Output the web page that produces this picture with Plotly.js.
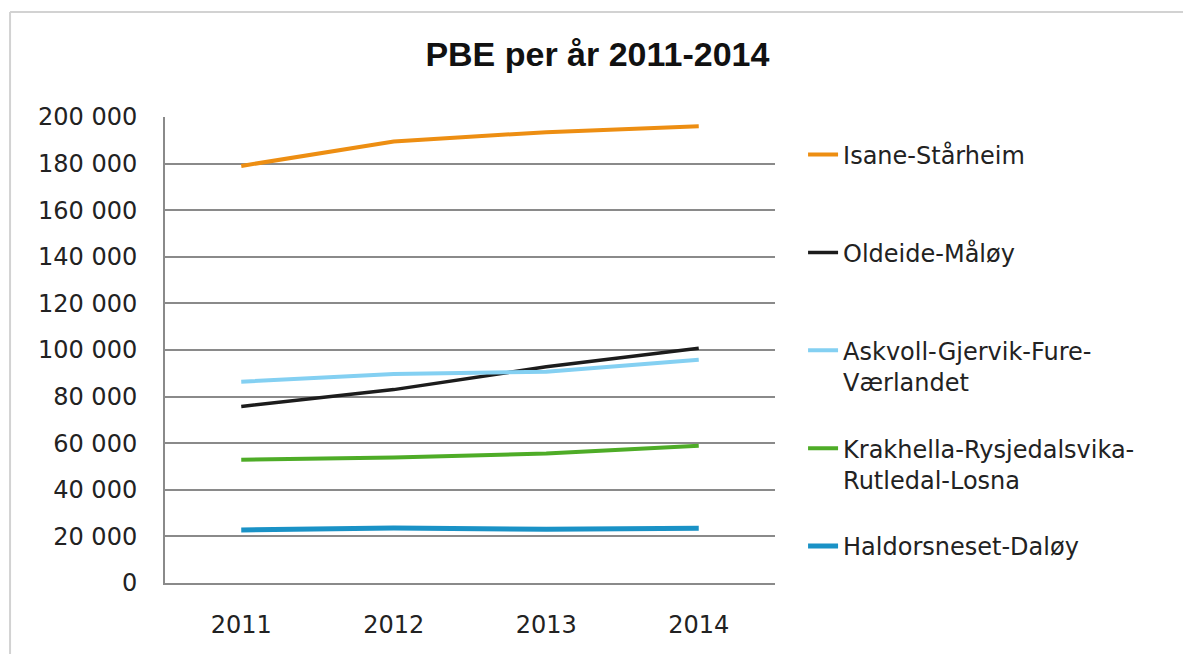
<!DOCTYPE html>
<html>
<head>
<meta charset="utf-8">
<script src="https://cdn.plot.ly/plotly-3.0.1.min.js"></script>
<style>
html,body{margin:0;padding:0;background:#fff;}
#chart{width:1183px;height:654px;}
</style>
</head>
<body>
<div id="chart"></div>
<script>
const years = ["2011", "2012", "2013", "2014"];
const seriesNames = ["Isane-Stårheim<br> ", "Oldeide-Måløy<br> ", "Askvoll-Gjervik-Fure-<br>Værlandet", "Krakhella-Rysjedalsvika-<br>Rutledal-Losna", "Haldorsneset-Daløy<br> "];
const isaneStarheim = [179000, 189500, 193500, 196000];
const oldeideMaloy = [75800, 83000, 92800, 100800];
const askvollGjervik = [86400, 89700, 90700, 95800];
const krakhellaRysjedalsvika = [52900, 53900, 55600, 58900];
const haldorsnesetDaloy = [22800, 23600, 23100, 23500];
const seriesValues = [isaneStarheim, oldeideMaloy, askvollGjervik, krakhellaRysjedalsvika, haldorsnesetDaloy];
const seriesColors = ["#ED8E12", "#1c1c1c", "#84D0F2", "#4EAC27", "#1A92C6"];
const seriesWidths = [4, 3.5, 4, 4, 5];
const yTicks = [0, 20000, 40000, 60000, 80000, 100000, 120000, 140000, 160000, 180000, 200000];

const traces = seriesValues.map((vals, i) => ({
  type: "scatter",
  mode: "lines",
  x: years,
  y: vals,
  name: seriesNames[i],
  legendgroup: "g" + i,
  line: {color: seriesColors[i], width: seriesWidths[i]},
  hoverinfo: "skip"
}));

const layout = {
  width: 1183,
  height: 654,
  margin: {l: 165, r: 408, t: 117, b: 71},
  paper_bgcolor: "#ffffff",
  plot_bgcolor: "#ffffff",
  separators: ", ",
  font: {family: "DejaVu Sans, sans-serif", size: 24, color: "#222"},
  title: {
    text: "<b>PBE per år 2011-2014</b>",
    font: {family: "Liberation Sans, Arial, sans-serif", size: 34, color: "#111"},
    x: 0.505, xanchor: "center",
    y: 0.918, yanchor: "middle"
  },
  xaxis: {
    type: "category",
    range: [-0.5, 3.5],
    showgrid: false,
    showline: true,
    linecolor: "#8a8a8a",
    linewidth: 2,
    ticks: "outside",
    ticklen: 19,
    tickcolor: "rgba(0,0,0,0)",
    tickfont: {size: 24, color: "#222"},
    zeroline: false,
    fixedrange: true
  },
  yaxis: {
    range: [0, 200000],
    tickvals: yTicks,
    tickformat: ",d",
    showgrid: true,
    gridcolor: "#8a8a8a",
    gridwidth: 2,
    showline: true,
    linecolor: "#8a8a8a",
    linewidth: 2,
    zeroline: false,
    ticks: "outside",
    ticklen: 21,
    tickcolor: "rgba(0,0,0,0)",
    tickfont: {size: 24, color: "#222"},
    fixedrange: true
  },
  showlegend: true,
  legend: {
    x: 1.046,
    xanchor: "left",
    y: 0.967,
    yanchor: "top",
    valign: "top",
    tracegroupgap: 32.5,
    font: {family: "DejaVu Sans, sans-serif", size: 24, color: "#222"},
    bgcolor: "rgba(0,0,0,0)"
  },
  shapes: [
    {type: "line", xref: "paper", yref: "paper", x0: -0.254, x1: -0.254, y0: -0.2, y1: 1.2253, line: {color: "#d2d2d2", width: 2}},
    {type: "line", xref: "paper", yref: "paper", x0: -0.254, x1: 1.7, y0: 1.2253, y1: 1.2253, line: {color: "#d2d2d2", width: 2}}
  ]
};

Plotly.newPlot("chart", traces, layout, {displayModeBar: false, staticPlot: true});
</script>
</body>
</html>
